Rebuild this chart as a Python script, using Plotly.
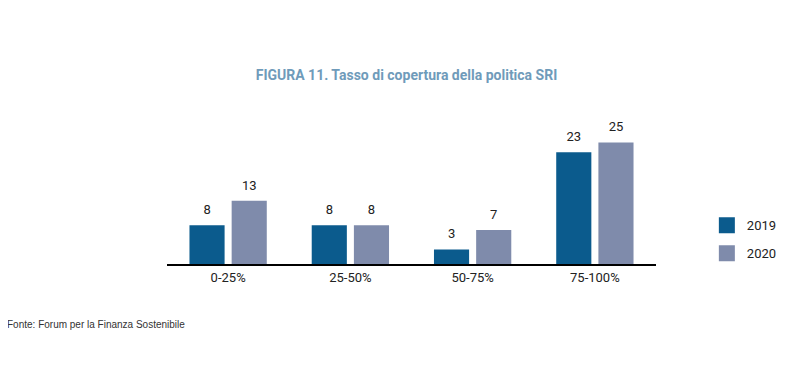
import plotly.graph_objects as go

categories = ["0-25%", "25-50%", "50-75%", "75-100%"]
series_names = ["2019", "2020"]
values_2019 = [8, 8, 3, 23]
values_2020 = [13, 8, 7, 25]
colors = ["#0B5B8D", "#7F8BAB"]

font_family = "Liberation Sans Narrow, Arial Narrow, Roboto, Arial, sans-serif"

fig = go.Figure()
for name, vals, col in zip(series_names, [values_2019, values_2020], colors):
    fig.add_trace(go.Bar(
        x=categories, y=vals, name=name, marker=dict(color=col, line=dict(width=0)),
        offsetgroup=name, showlegend=False,
    ))
for name, vals, col in zip(series_names, [values_2019, values_2020], colors):
    fig.add_trace(go.Scatter(
        x=categories, y=vals, mode="markers+text", name=name, offsetgroup=name,
        text=[str(v) for v in vals], textposition="top center", cliponaxis=False,
        marker=dict(size=11, color="rgba(0,0,0,0)"),
        textfont=dict(size=13, color="#222222", family=font_family),
        showlegend=False, hoverinfo="skip",
    ))
for name, col in zip(series_names, colors):
    fig.add_trace(go.Scatter(
        x=[None], y=[None], mode="markers", name=name, legendgroup=name,
        marker=dict(symbol="square", size=18, color=col),
    ))

fig.update_layout(
    width=797, height=359,
    paper_bgcolor="white", plot_bgcolor="white",
    margin=dict(l=159, r=149, t=120, b=103),
    barmode="group", bargap=0.31, bargroupgap=0.167,
    scattermode="group", scattergap=0.31,
    title=dict(text="<b>FIGURA 11. Tasso di copertura della politica SRI</b>",
               x=0.5, xanchor="center", xref="container", y=1 - 67 / 359, yref="container",
               yanchor="middle",
               font=dict(size=14, color="#6F9BBA", family=font_family)),
    font=dict(family=font_family, color="#222222"),
    legend=dict(x=1.104, xanchor="left", y=0.395, yanchor="top",
                font=dict(size=13, color="#222222"), tracegroupgap=8,
                itemsizing="trace"),
    xaxis=dict(showline=True, linecolor="black", linewidth=2, ticks="",
               tickfont=dict(size=13, color="#222222"), showgrid=False),
    yaxis=dict(range=[0, 28], visible=False, showgrid=False),
)
fig.add_annotation(text="Fonte: Forum per la Finanza Sostenibile",
                   xref="paper", yref="paper", x=-162/489, y=-(316-256)/136,
                   xanchor="left", yanchor="middle", showarrow=False,
                   font=dict(size=10, color="#333333", family="Liberation Sans, Arial, sans-serif"))
fig.write_html("out.html")
